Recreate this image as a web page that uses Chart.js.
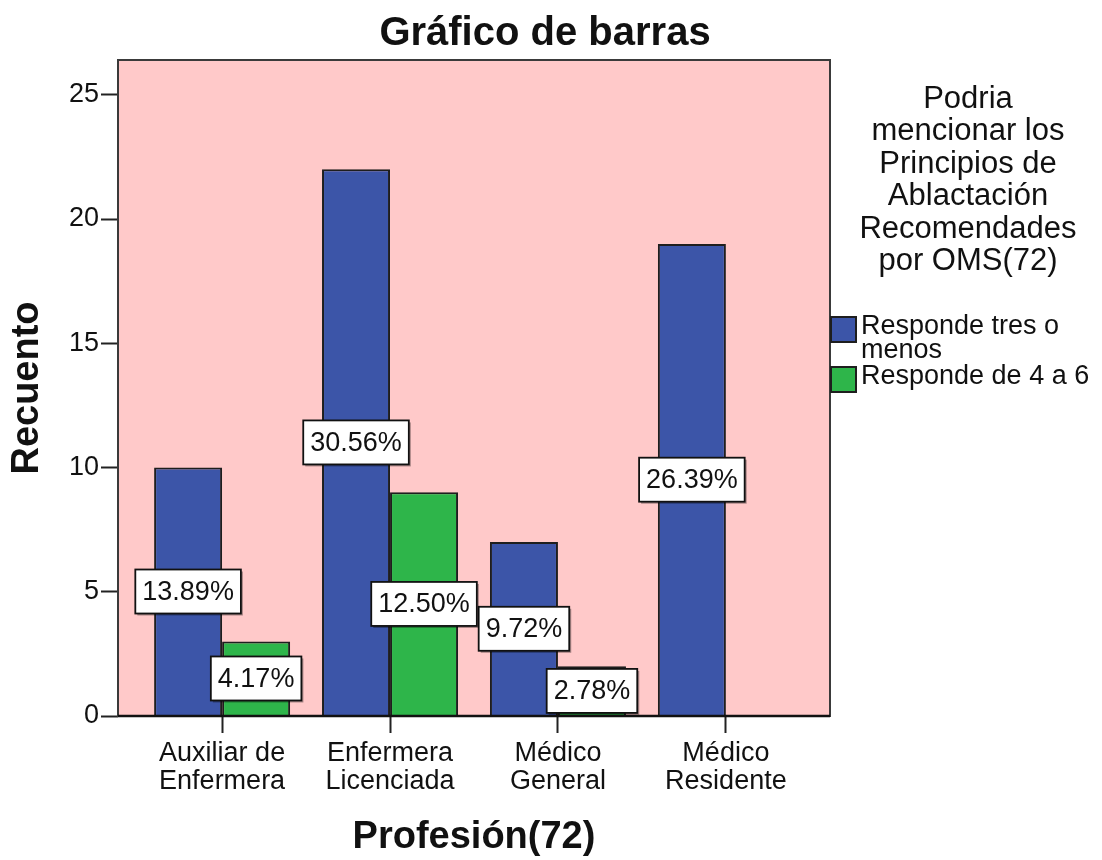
<!DOCTYPE html>
<html>
<head>
<meta charset="utf-8">
<script src="https://cdn.jsdelivr.net/npm/chart.js@4/dist/chart.umd.min.js"></script>
<style>
  html, body { margin: 0; padding: 0; background: #ffffff; }
  #wrap { width: 1102px; height: 860px; }
</style>
</head>
<body>
<div id="wrap"><canvas id="c" width="1102" height="860"></canvas></div>
<script>
// ---- data ----
const categories = [['Auxiliar de', 'Enfermera'], ['Enfermera', 'Licenciada'], ['Médico', 'General'], ['Médico', 'Residente']];
const seriesNames = [['Responde tres o', 'menos'], ['Responde de 4 a 6']];
const respondeTresOMenos = [10, 22, 7, 19];
const respondeDe4a6 = [3, 9, 2, 0];
const pctTresOMenos = ['13.89%', '30.56%', '9.72%', '26.39%'];
const pctDe4a6 = ['4.17%', '12.50%', '2.78%', '0.00%'];
const yTicks = [0, 5, 10, 15, 20, 25];
const legendTitle = ['Podria', 'mencionar los', 'Principios de', 'Ablactación', 'Recomendades', 'por OMS(72)'];
const chartTitle = 'Gráfico de barras';
const xTitle = 'Profesión(72)';
const yTitle = 'Recuento';

const FONT = "'Liberation Sans', Arial, sans-serif";
const BLUE = '#3c55a8';
const GREEN = '#2eb54a';
const PINK = '#ffc9c9';
const EDGE = '#1e1e1e';

Chart.defaults.font.family = FONT;
Chart.defaults.color = '#111';

const bgPlugin = {
  id: 'plotBg',
  beforeDatasetsDraw(chart) {
    const a = chart.chartArea, ctx = chart.ctx;
    ctx.save();
    ctx.fillStyle = PINK;
    ctx.fillRect(a.left, a.top, a.right - a.left, a.bottom - a.top);
    ctx.restore();
  },
  afterDatasetsDraw(chart) {
    const a = chart.chartArea, ctx = chart.ctx;
    ctx.save();
    ctx.strokeStyle = '#3a3a3a';
    ctx.lineWidth = 2;
    ctx.strokeRect(a.left, a.top, a.right - a.left, a.bottom - a.top);
    ctx.strokeStyle = '#111';
    ctx.lineWidth = 2.5;
    ctx.beginPath();
    ctx.moveTo(a.left, a.bottom);
    ctx.lineTo(a.right, a.bottom);
    ctx.stroke();
    ctx.restore();
  }
};

const labelPlugin = {
  id: 'pctLabels',
  afterDatasetsDraw(chart) {
    const ctx = chart.ctx;
    const pcts = [pctTresOMenos, pctDe4a6];
    ctx.save();
    ctx.font = '27px ' + FONT;
    ctx.textAlign = 'center';
    ctx.textBaseline = 'middle';
    chart.data.datasets.forEach((ds, di) => {
      const meta = chart.getDatasetMeta(di);
      meta.data.forEach((bar, i) => {
        const v = ds.data[i].y;
        if (!v) return;
        const txt = pcts[di][i];
        const cx = bar.x;
        const cy = (bar.y + bar.base) / 2;
        const w = ctx.measureText(txt).width + 14;
        const h = 44;
        ctx.fillStyle = 'rgba(0,0,0,0.35)';
        ctx.fillRect(cx - w / 2 + 2, cy - h / 2 + 2, w, h);
        ctx.fillStyle = '#ffffff';
        ctx.fillRect(cx - w / 2, cy - h / 2, w, h);
        ctx.strokeStyle = '#111';
        ctx.lineWidth = 1.8;
        ctx.strokeRect(cx - w / 2, cy - h / 2, w, h);
        ctx.fillStyle = '#111';
        ctx.fillText(txt, cx, cy + 1);
      });
    });
    ctx.restore();
  }
};

const textPlugin = {
  id: 'sideTexts',
  afterDraw(chart) {
    const ctx = chart.ctx;
    ctx.save();
    // main title
    ctx.fillStyle = '#111';
    ctx.font = 'bold 40px ' + FONT;
    ctx.textAlign = 'center';
    ctx.textBaseline = 'alphabetic';
    ctx.fillText(chartTitle, 545, 45);
    // legend title
    ctx.font = '31px ' + FONT;
    legendTitle.forEach((line, i) => {
      ctx.fillText(line, 968, 108 + i * 32.4);
    });
    // legend items
    const colors = [BLUE, GREEN];
    const boxTops = [317, 367];
    ctx.font = '27px ' + FONT;
    ctx.textAlign = 'left';
    seriesNames.forEach((lines, i) => {
      const y = boxTops[i];
      ctx.fillStyle = colors[i];
      ctx.fillRect(831, y, 25, 25);
      ctx.strokeStyle = EDGE;
      ctx.lineWidth = 2;
      ctx.strokeRect(831, y, 25, 25);
      ctx.fillStyle = '#111';
      lines.forEach((ln, j) => {
        ctx.fillText(ln, 861, y + 17 + j * 24);
      });
    });
    ctx.restore();
  }
};

new Chart(document.getElementById('c'), {
  type: 'bar',
  data: {
    datasets: [
      {
        label: seriesNames[0].join(' '),
        data: respondeTresOMenos.map((v, i) => ({ x: i, y: v })),
        backgroundColor: BLUE,
        borderColor: EDGE,
        borderWidth: 2,
        borderSkipped: 'bottom'
      },
      {
        label: seriesNames[1].join(' '),
        data: respondeDe4a6.map((v, i) => ({ x: i, y: v })),
        backgroundColor: GREEN,
        borderColor: EDGE,
        borderWidth: 2,
        borderSkipped: 'bottom'
      }
    ]
  },
  options: {
    responsive: false,
    animation: false,
    categoryPercentage: 0.81,
    barPercentage: 1.0,
    layout: { padding: { top: 60, right: 272, bottom: 0, left: 0 } },
    plugins: {
      legend: { display: false },
      tooltip: { enabled: false },
      title: { display: false }
    },
    scales: {
      x: {
        type: 'linear',
        min: -0.62,
        max: 3.62,
        offset: false,
        grid: { offset: false, drawOnChartArea: false, drawTicks: true, tickLength: 17, tickColor: '#222', tickWidth: 2 },
        border: { display: false },
        afterBuildTicks(scale) { scale.ticks = categories.map((c, i) => ({ value: i })); },
        afterFit(scale) { scale.height = 144; },
        ticks: {
          autoSkip: false,
          maxRotation: 0,
          minRotation: 0,
          padding: 6,
          color: '#111',
          font: { size: 27, lineHeight: 1.05 },
          callback: (v) => categories[v]
        },
        title: {
          display: true,
          text: xTitle,
          color: '#111',
          font: { size: 38, weight: 'bold' },
          padding: { top: 0, bottom: 0 }
        }
      },
      y: {
        min: 0,
        max: 26.4,
        grid: { drawOnChartArea: false, drawTicks: true, tickLength: 17, tickColor: '#222', tickWidth: 2 },
        border: { display: false },
        afterBuildTicks(scale) { scale.ticks = yTicks.map(v => ({ value: v })); },
        afterFit(scale) { scale.width = 118; },
        ticks: {
          padding: 2,
          color: '#111',
          font: { size: 27 },
          callback: (v) => String(v)
        },
        title: {
          display: true,
          text: yTitle,
          color: '#111',
          font: { size: 38, weight: 'bold' },
          padding: { top: 5, bottom: 0 }
        }
      }
    }
  },
  plugins: [bgPlugin, labelPlugin, textPlugin]
});
</script>
</body>
</html>
